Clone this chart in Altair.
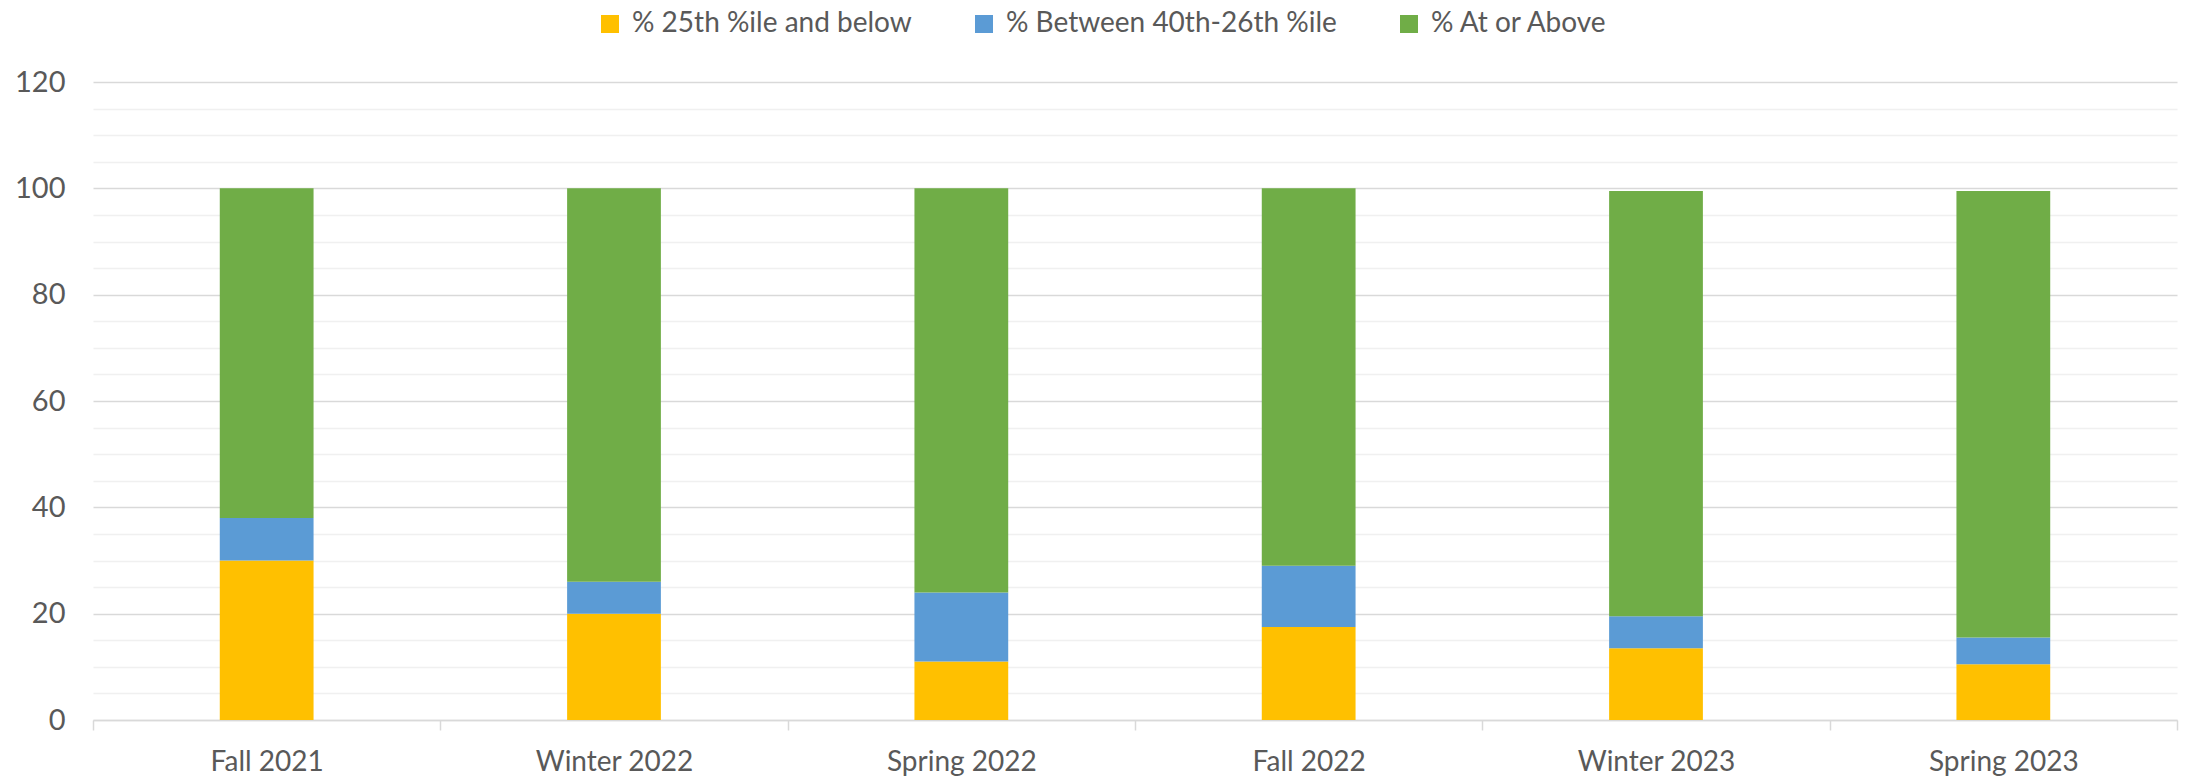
import altair as alt
import pandas as pd

# Assessment terms on the x axis
terms = ["Fall 2021", "Winter 2022", "Spring 2022", "Fall 2022", "Winter 2023", "Spring 2023"]

# Percent of students in each band, per term
pct_25_below = [30, 20, 11, 17.5, 13.5, 10.5]
pct_40_26 = [8, 6, 13, 11.5, 6, 5]
pct_at_above = [62, 74, 76, 71, 80, 84]

series_names = ["% 25th %ile and below", "% Between 40th-26th %ile", "% At or Above"]
series_colors = ["#FFC000", "#5B9BD5", "#70AD47"]

rows = []
for i, term in enumerate(terms):
    for k, vals in enumerate([pct_25_below, pct_40_26, pct_at_above]):
        rows.append({"term": term, "series": series_names[k], "order": k, "value": vals[i]})
df = pd.DataFrame(rows)

text_color = "#595959"
font = "Lato"

chart = (
    alt.Chart(df)
    .mark_bar(width={"band": 0.27})
    .encode(
        x=alt.X(
            "term:N",
            sort=terms,
            title=None,
            scale=alt.Scale(paddingInner=0, paddingOuter=0),
            axis=alt.Axis(
                labelAngle=0,
                labelFontSize=28,
                labelColor=text_color,
                labelFont=font,
                labelPadding=18,
                tickBand="extent",
                tickSize=10,
                tickColor="#D9D9D9",
                tickWidth=1.5,
                domainColor="#D9D9D9",
                domainWidth=1.5,
                grid=False,
            ),
        ),
        y=alt.Y(
            "value:Q",
            stack="zero",
            title=None,
            scale=alt.Scale(domain=[0, 120], nice=False),
            axis=alt.Axis(
                values=list(range(0, 121, 5)),
                labelExpr="datum.value % 20 === 0 ? datum.label : ''",
                labelFontSize=29,
                labelColor=text_color,
                labelFont=font,
                labelPadding=28,
                ticks=False,
                domain=False,
                gridColor={
                    "condition": {"test": "datum.value % 20 === 0", "value": "#D9D9D9"},
                    "value": "#F0F0F0",
                },
                gridWidth=1.5,
            ),
        ),
        color=alt.Color(
            "series:N",
            scale=alt.Scale(domain=series_names, range=series_colors),
            legend=alt.Legend(
                title=None,
                orient="none",
                direction="horizontal",
                legendX=503,
                legendY=-72,
                symbolType="square",
                symbolSize=324,
                symbolStrokeWidth=0,
                labelFontSize=28,
                labelFont=font,
                labelColor=text_color,
                labelOffset=8,
                labelLimit=0,
                columnPadding=58,
                padding=0,
            ),
        ),
        order=alt.Order("order:Q", sort="ascending"),
    )
    .properties(
        width=2084,
        height=638,
        background="white",
        autosize=alt.AutoSizeParams(type="none"),
        padding={"left": 93, "top": 82, "right": 8, "bottom": 59},
    )
    .configure_view(strokeWidth=0, stroke=None)
)

chart.save("out.html", embed_options={"renderer": "svg", "actions": False})
